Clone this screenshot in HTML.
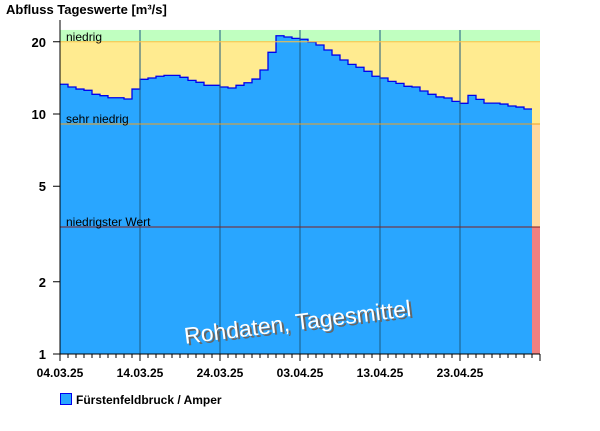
<!DOCTYPE html>
<html><head><meta charset="utf-8"><style>
body{margin:0;background:#fff;width:600px;height:426px;overflow:hidden}
svg{font-family:"Liberation Sans",Arial,sans-serif}
</style></head><body>
<svg id="c" width="600" height="426">
</svg>
<script>
const startLabels=["04.03.25","14.03.25","24.03.25","03.04.25","13.04.25","23.04.25"];
const yTicks=[1,2,5,10,20];
const values=[13.3,12.96,12.7,12.55,12.08,11.92,11.69,11.69,11.55,12.7,13.95,14.13,14.36,14.49,14.49,14.22,13.81,13.55,13.17,13.17,12.96,12.83,13.17,13.5,13.98,15.25,18.07,21.19,20.94,20.66,20.48,19.95,19.39,18.48,17.6,16.79,16.1,15.66,15.06,14.36,14.13,13.68,13.42,13.04,12.96,12.47,12.08,11.78,11.66,11.29,11.08,11.96,11.51,11.1,11.1,11.0,10.8,10.69,10.49];
const thresholds=[20,9.08,3.38];
const NS="http://www.w3.org/2000/svg";
const svg=document.getElementById('c');
const X0=60,X1=540,Y0=354,DEC=240,DAY=8,TOTAL=60,YMAX=22.4;
const y=v=>Y0-Math.log10(v)*DEC;
const x=d=>X0+d*DAY;
function el(t,a,txt){const e=document.createElementNS(NS,t);for(const k in a)e.setAttribute(k,a[k]);if(txt!==undefined)e.textContent=txt;svg.appendChild(e);return e;}
const yTop=y(YMAX);
let e;
e=el('rect',{x:X0,y:yTop,width:X1-X0,height:y(thresholds[0])-yTop,fill:'#c0ffc0'});

e=el('rect',{x:X0,y:y(thresholds[0]),width:X1-X0,height:y(thresholds[1])-y(thresholds[0]),fill:'#ffeb90'});

e=el('rect',{x:X0,y:y(thresholds[1]),width:X1-X0,height:y(thresholds[2])-y(thresholds[1]),fill:'#ffd8a0'});

e=el('rect',{x:X0,y:y(thresholds[2]),width:X1-X0,height:Y0-y(thresholds[2]),fill:'#f08080'});

let d=`M${x(0)},${Y0}`;
values.forEach((v,i)=>{d+=` L${x(i)},${y(v)} L${x(i+1)},${y(v)}`;});
d+=` L${x(values.length)},${Y0} Z`;
e=el('path',{d:d,fill:'#29a6ff',stroke:'none'});

let ld=`M${x(0)},${y(values[0])}`;
values.forEach((v,i)=>{ld+=` L${x(i)},${y(v)} L${x(i+1)},${y(v)}`;});
e=el('path',{d:ld,fill:'none',stroke:'#0000ee','stroke-width':1.3});

for(let i=1;i<startLabels.length;i++){e=el('line',{x1:x(i*10),x2:x(i*10),y1:yTop,y2:Y0,stroke:'#1a5a80','stroke-width':1});
}
e=el('line',{x1:X0,x2:X1,y1:y(thresholds[0]),y2:y(thresholds[0]),stroke:'#ffc040'});
e=el('line',{x1:X0,x2:X1,y1:y(thresholds[1]),y2:y(thresholds[1]),stroke:'#f0a020'});
e=el('line',{x1:X0,x2:X1,y1:y(thresholds[2]),y2:y(thresholds[2]),stroke:'#802020'});
const lbls=[["niedrig",y(thresholds[0])-1],["sehr niedrig",y(thresholds[1])-1],["niedrigster Wert",y(thresholds[2])-1]];
lbls.forEach(l=>{e=el('text',{x:66,y:l[1],'font-size':12,fill:'#000'},l[0]);});
e=el('line',{x1:X0,x2:X0,y1:yTop-10,y2:Y0,stroke:'#000'});
e=el('line',{x1:X0,x2:X1,y1:Y0,y2:Y0,stroke:'#000'});
yTicks.forEach(t=>{
 e=el('line',{x1:X0-7,x2:X0,y1:y(t),y2:y(t),stroke:'#000'});
 e=el('text',{x:X0-14,y:y(t)+5,'font-size':13,'font-weight':'bold','text-anchor':'end'},String(t));
});
for(let i=0;i<=TOTAL;i++){const mj=i%10===0;
 e=el('line',{x1:x(i),x2:x(i),y1:Y0,y2:Y0+(mj?7:4),stroke:'#000'});}
startLabels.forEach((s,i)=>{e=el('text',{x:x(i*10),y:377,'font-size':12,'font-weight':'bold','text-anchor':'middle'},s);});
e=el('text',{x:6,y:14,'font-size':13,'font-weight':'bold'},"Abfluss Tageswerte [m³/s]");
e=el('text',{x:299,y:332,'font-size':23,fill:'#666','text-anchor':'middle',transform:'rotate(-7 297 318)'},"Rohdaten, Tagesmittel");
e=el('text',{x:297,y:330,'font-size':23,fill:'#fff','text-anchor':'middle',transform:'rotate(-7 297 318)'},"Rohdaten, Tagesmittel");
e=el('rect',{x:60.5,y:393.5,width:11,height:11,fill:'#29a6ff',stroke:'#0000ee'});
e=el('text',{x:76,y:404,'font-size':12,'font-weight':'bold'},"Fürstenfeldbruck / Amper");
</script>
</body></html>
